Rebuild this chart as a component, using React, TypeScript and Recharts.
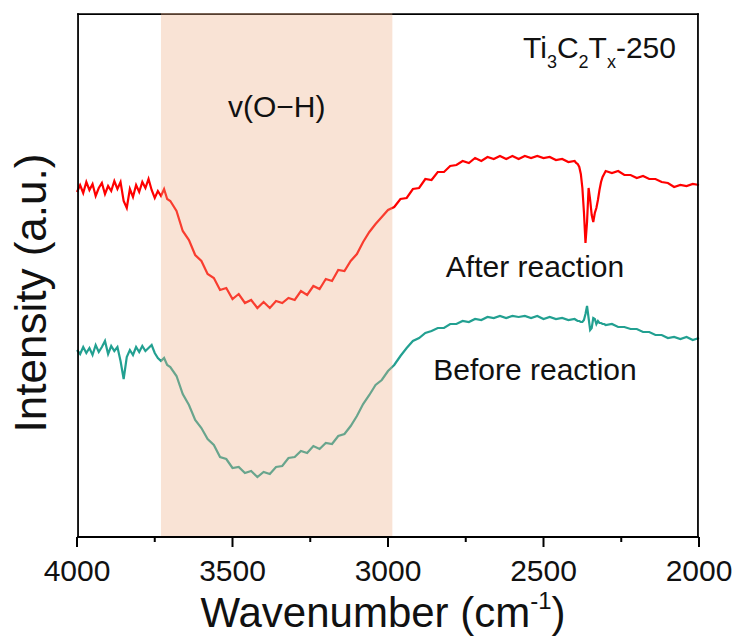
import React from 'react';
import { LineChart, Line, XAxis, YAxis, ReferenceArea } from 'recharts';

// Wavenumber grid (cm^-1)
const wavenumbers = [
  4000, 3990, 3980, 3970, 3960, 3950, 3940, 3930, 3920, 3910, 3900, 3890, 3880, 3870, 3860, 3850,
  3840, 3830, 3820, 3810, 3800, 3790, 3780, 3770, 3760, 3750, 3740, 3730, 3720, 3710, 3700,
  3680, 3660, 3640, 3620, 3600, 3580, 3560, 3540, 3520, 3500, 3480, 3460, 3440, 3420, 3400,
  3380, 3360, 3340, 3320, 3300, 3280, 3260, 3240, 3220, 3200, 3180, 3160, 3140, 3120, 3100,
  3080, 3060, 3040, 3020, 3000, 2980, 2960, 2940, 2920, 2900, 2880, 2860, 2840, 2820, 2800,
  2780, 2760, 2740, 2720, 2700, 2680, 2660, 2640, 2620, 2600, 2580, 2560, 2540, 2520, 2500,
  2480, 2460, 2440, 2420, 2400,
  2395, 2390, 2385, 2380, 2375, 2370, 2365, 2360, 2355, 2350, 2345, 2340, 2335, 2330, 2325,
  2320, 2315, 2310, 2305, 2300,
  2280, 2260, 2240, 2220, 2200, 2180, 2160, 2140, 2120, 2100, 2080, 2060, 2040, 2020, 2000,
];

// After reaction (a.u.)
const afterReaction = [
  345, 352, 344, 355, 347, 353, 341, 349, 354, 343, 351, 346, 356, 348, 355, 336,
  329, 348, 340, 352, 345, 355, 349, 358, 347, 339, 346, 341, 348, 338, 336,
  326, 306, 297, 282, 276, 263, 259, 247, 249, 238, 243, 234, 237, 229, 235,
  229, 236, 234, 239, 237, 246, 242, 251, 248, 258, 256, 267, 266, 276, 283,
  295, 305, 313, 320, 327, 330, 338, 339, 348, 349, 358, 357, 365, 365, 371,
  372, 376, 374, 379, 376, 380, 378, 381, 378, 381, 378, 381, 379, 381, 379,
  380, 377, 378, 375, 376,
  374, 373, 370, 363, 349, 325, 294, 315, 349, 337, 322, 315, 324, 329, 337,
  347, 355, 360, 363, 366,
  364, 366, 362, 362, 359, 361, 358, 358, 355, 354, 350, 352, 351, 353, 352,
];

// Before reaction (a.u.)
const beforeReaction = [
  187, 183, 190, 184, 189, 182, 192, 185, 190, 196, 183, 191, 186, 190, 176, 158,
  180, 187, 182, 190, 185, 191, 186, 189, 192, 184, 179, 176, 179, 172, 170,
  161, 143, 132, 117, 109, 98, 92, 80, 78, 69, 70, 64, 66, 60, 65,
  63, 70, 71, 79, 80, 86, 84, 91, 88, 94, 93, 101, 103, 111, 121,
  133, 142, 152, 157, 166, 172, 181, 189, 196, 199, 204, 206, 209, 209, 213,
  213, 216, 215, 218, 217, 220, 219, 221, 219, 221, 220, 221, 219, 221, 218,
  220, 218, 219, 217, 218,
  217, 216, 216, 215, 215, 217, 223, 231, 219, 207, 209, 219, 218, 213, 216,
  214, 214, 213, 213, 212,
  213, 210, 210, 208, 208, 205, 205, 202, 202, 199, 200, 198, 200, 197, 199,
];

const xTicks = [4000, 3750, 3500, 3250, 3000, 2750, 2500, 2250, 2000];
const majorTicks = [4000, 3500, 3000, 2500, 2000];
const xDomain = [2000, 4000];
const yDomain = [0, 524];
const ohBand = [3730, 2986];
// frame borders (data units, just inside the plot edges)
const frameLeft = [3999.5, 3993.8];
const frameRight = [2006.2, 2000.5];
const frameTop = [522, 523.8];

const data = wavenumbers.map((w, i) => ({
  w,
  after: afterReaction[i],
  before: beforeReaction[i],
}));

const FONT = "Arial, 'Liberation Sans', Helvetica, sans-serif";

const XTick = (props: any) => {
  const { x, y, payload } = props;
  const major = majorTicks.includes(payload.value);
  return (
    <g>
      <line x1={x} x2={x} y1={y} y2={y + (major ? 10 : 5)} stroke="#000" strokeWidth={2} />
      {major && (
        <text x={x} y={y + 44} textAnchor="middle" fontSize={30} fill="#111" fontFamily={FONT}>
          {payload.value}
        </text>
      )}
    </g>
  );
};

const XTitle = () => (
  <text x={383} y={627} textAnchor="middle" fontSize={42} fill="#111" fontFamily={FONT}>
    Wavenumber (cm<tspan fontSize={24} dy={-18}>-1</tspan>
    <tspan fontSize={42} dy={18}>)</tspan>
  </text>
);

const YTitle = () => (
  <text
    x={46}
    y={293}
    transform="rotate(-90, 46, 293)"
    textAnchor="middle"
    fontSize={44}
    fill="#111"
    fontFamily={FONT}
  >
    Intensity (a.u.)
  </text>
);

const OHLabel = (props: any) => {
  const vb = props.viewBox || { x: 161, y: 13, width: 231 };
  return (
    <text
      x={vb.x + vb.width / 2}
      y={vb.y + 104}
      textAnchor="middle"
      fontSize={30}
      fill="#111"
      fontFamily={FONT}
    >
      v(O−H)
    </text>
  );
};

const Annotations = () => (
  <g fontFamily={FONT} fill="#111">
    <text x={523} y={58} fontSize={30}>
      Ti<tspan fontSize={18} dy={10}>3</tspan>
      <tspan fontSize={30} dy={-10}>C</tspan>
      <tspan fontSize={18} dy={10}>2</tspan>
      <tspan fontSize={30} dy={-10}>T</tspan>
      <tspan fontSize={18} dy={10}>x</tspan>
      <tspan fontSize={30} dy={-10}>-250</tspan>
    </text>
    <text x={535} y={277} fontSize={30} textAnchor="middle">After reaction</text>
    <text x={535} y={380} fontSize={30} textAnchor="middle">Before reaction</text>
  </g>
);

export default function App() {
  return (
    <div style={{ position: 'absolute', left: 0, top: 0, width: 739, height: 637, background: '#fff' }}>
      <LineChart
        width={739}
        height={637}
        data={data}
        margin={{ top: 13, right: 40, bottom: 0, left: 67 }}
      >
        <XAxis
          dataKey="w"
          type="number"
          domain={xDomain}
          reversed
          ticks={xTicks}
          interval={0}
          tickLine={false}
          tickSize={0}
          tickMargin={0}
          tick={<XTick />}
          axisLine={{ stroke: '#000', strokeWidth: 2 }}
          height={100}
          label={<XTitle />}
        />
        <YAxis
          type="number"
          domain={yDomain}
          tick={false}
          tickLine={false}
          axisLine={false}
          width={10}
          label={<YTitle />}
        />
        <Line
          dataKey="after"
          stroke="#ff0000"
          strokeWidth={2.2}
          dot={false}
          isAnimationActive={false}
        />
        <Line
          dataKey="before"
          stroke="#22a091"
          strokeWidth={2.2}
          dot={false}
          isAnimationActive={false}
        />
        <ReferenceArea
          x1={frameLeft[0]}
          x2={frameLeft[1]}
          y1={yDomain[0]}
          y2={frameTop[1]}
          fill="#000"
          fillOpacity={1}
          stroke="none"
          zIndex={450}
        />
        <ReferenceArea
          x1={frameRight[0]}
          x2={frameRight[1]}
          y1={yDomain[0]}
          y2={frameTop[1]}
          fill="#000"
          fillOpacity={1}
          stroke="none"
          zIndex={450}
        />
        <ReferenceArea
          x1={frameLeft[0]}
          x2={frameRight[1]}
          y1={frameTop[0]}
          y2={frameTop[1]}
          fill="#000"
          fillOpacity={1}
          stroke="none"
          zIndex={450}
        />
        <ReferenceArea
          x1={ohBand[0]}
          x2={ohBand[1]}
          y1={yDomain[0]}
          y2={yDomain[1]}
          fill="#eeb088"
          fillOpacity={0.35}
          stroke="none"
          ifOverflow="hidden"
          zIndex={450}
          label={<OHLabel />}
        />
        <Annotations />
      </LineChart>
    </div>
  );
}
